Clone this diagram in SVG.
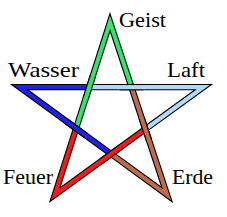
<svg xmlns="http://www.w3.org/2000/svg" xmlns:xlink="http://www.w3.org/1999/xlink" width="227" height="217" viewBox="0 0 227 217">
<style>
.o{fill:none;stroke:#000;stroke-width:6.4;stroke-linejoin:miter;stroke-linecap:butt;stroke-miterlimit:10}
.c{fill:none;stroke-width:4.2;stroke-linejoin:miter;stroke-linecap:butt;stroke-miterlimit:10}
.g{stroke:#30e46c}.b{stroke:#2020e8}.lb{stroke:#b4d8f6}.r{stroke:#f81818}.br{stroke:#c06a4c}
text{font-family:"Liberation Serif","DejaVu Serif",serif;font-size:21px;fill:#000}
</style>
<defs>
<polyline id="pG" points="76.1,128.4 110.0,22.2 131.5,87.15"/>
<polyline id="pB" points="89.3,87.15 19.65,87.15 111.2,154.0"/>
<polyline id="pL" points="89.3,87.15 203.3,87.15 145.3,129.2"/>
<polyline id="pR" points="76.1,128.4 54.9,194.8 145.3,129.2"/>
<polyline id="pE" points="131.5,87.15 167.0,194.7 111.2,154.0"/>
<line id="x1" x1="92.9" y1="75.7" x2="85.7" y2="98.6"/>
<line id="x2" x1="119.5" y1="87.15" x2="143.5" y2="87.15"/>
<line id="x3" x1="66.4" y1="121.3" x2="85.8" y2="135.5"/>
<line id="x4" x1="141.5" y1="117.8" x2="149.1" y2="140.6"/>
<line id="x5" x1="120.9" y1="147.0" x2="101.5" y2="161.0"/>
<line id="y1" x1="93.41" y1="74.29" x2="85.19" y2="100.01"/>
<line id="y2" x1="118" y1="87.15" x2="145" y2="87.15"/>
<line id="y3" x1="65.2" y1="120.4" x2="87.0" y2="136.4"/>
<line id="y4" x1="141.07" y1="116.38" x2="149.53" y2="142.02"/>
<line id="y5" x1="122.13" y1="146.07" x2="100.27" y2="161.93"/>
</defs>
<g id="connectors">
<use xlink:href="#pG" class="o"/><use xlink:href="#pG" class="c g"/>
<use xlink:href="#pB" class="o"/><use xlink:href="#pB" class="c b"/>
<use xlink:href="#pL" class="o"/><use xlink:href="#pL" class="c lb"/>
<use xlink:href="#pR" class="o"/><use xlink:href="#pR" class="c r"/>
<use xlink:href="#pE" class="o"/><use xlink:href="#pE" class="c br"/>
<use xlink:href="#x1" class="o"/><use xlink:href="#y1" class="c g"/>
<use xlink:href="#x2" class="o"/><use xlink:href="#y2" class="c lb"/>
<use xlink:href="#x3" class="o"/><use xlink:href="#y3" class="c b"/>
<use xlink:href="#x4" class="o"/><use xlink:href="#y4" class="c br"/>
<use xlink:href="#x5" class="o"/><use xlink:href="#y5" class="c r"/>
</g>
<g id="geist"><text x="119" y="26.5" textLength="47" lengthAdjust="spacingAndGlyphs">Geist</text></g>
<g id="wasser"><text x="8" y="77" textLength="71" lengthAdjust="spacingAndGlyphs">Wasser</text></g>
<g id="luft"><text x="167" y="77" textLength="38" lengthAdjust="spacingAndGlyphs">Laft</text></g>
<g id="feuer"><text x="3" y="184" textLength="50" lengthAdjust="spacingAndGlyphs">Feuer</text></g>
<g id="erde"><text x="172" y="184" textLength="41" lengthAdjust="spacingAndGlyphs">Erde</text></g>
</svg>
